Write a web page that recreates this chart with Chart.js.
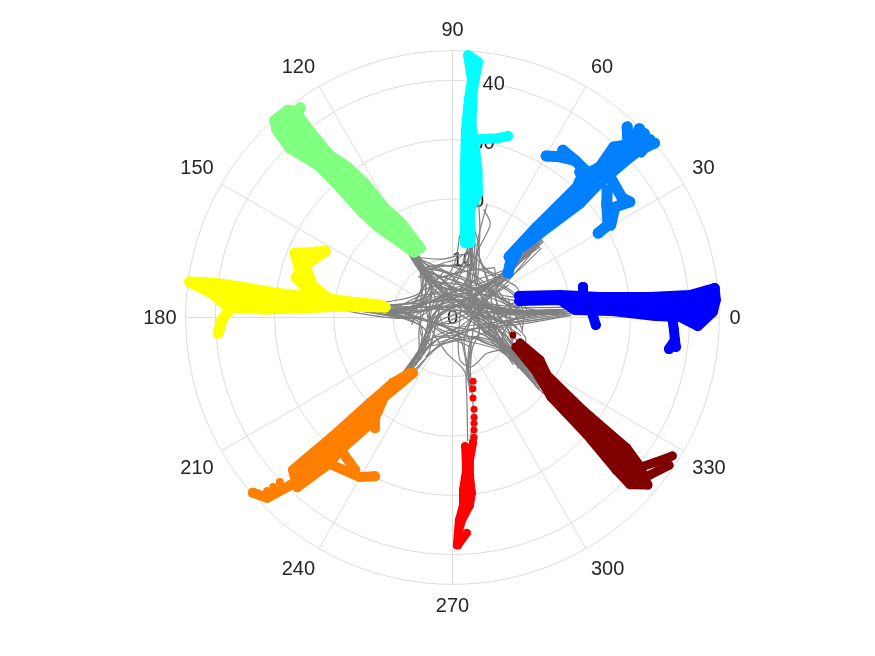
<!DOCTYPE html>
<html>
<head>
<meta charset="utf-8">
<title>Polar trajectories</title>
<script src="https://cdn.jsdelivr.net/npm/chart.js@4"></script>
<style>
  html, body { margin: 0; padding: 0; background: #fff; }
  canvas { display: block; }
</style>
</head>
<body>
<canvas id="chart1" width="875" height="656"></canvas>
<script>
// every track below is a flat list: theta(deg), r, theta, r, ...
const thetaTicks = [0, 30, 60, 90, 120, 150, 180, 210, 240, 270, 300, 330];
const rTicks = [0, 10, 20, 30, 40];
const rMax = 45;
const rLabelAngle = 80;

// bodies are the outline of the dense part of each arm
const blueBody = [17.9,11.8, 11.8,18.5, 7.9,25.1, 5.9,33.5, 5.4,40.2, 6.4,44.5, 3.8,44.5, 1.2,43.9, -2,41.4, 0.1,38.4, 0.4,34.2, 2.4,26.6, 3.5,20.7, 9.2,18.4, 13.9,11.6];
const blueTracks = [
    [13.2,22.6, 8.9,22.3],
    [-3,24.2, 2.3,23.5],
    [0.7,37, -3.2,37.4, -5.8,37.7, -8.3,36.9],
    [-5.8,37.7, -7.5,38]
];
const azureBody = [47,14, 47,20.9, 46.3,30.4, 47.5,32.3, 45.6,35.5, 46.6,39.6, 44.7,41.4, 41.8,42.4, 42.1,40.4, 42.5,33.1, 41.9,28.9, 44,20.5, 45.9,15.9, 42.4,13.1, 38.7,12];
const azureTracks = [
    [47.5,43.6, 44.5,41.5],
    [45.3,44.8, 43.9,42],
    [43.8,44.8, 42.2,42],
    [42,44.8, 41.3,42.3],
    [40.8,45, 41.8,42.4],
    [59.9,31.5, 56.2,32.6, 52.1,33.6, 46,33.4],
    [56.6,33.8, 52.1,33.6],
    [48.8,32.6, 46,33.4],
    [39.5,33.8, 36.1,32.2, 30.7,30.5, 30.1,28.4],
    [40.8,35.5, 35.2,35, 33.1,35.7, 34.2,33.1, 30.3,30.9]
];
const cyanBody = [80.5,12.7, 83.9,19.9, 85.2,25, 85.9,31.7, 85.7,36.8, 85.3,40.2, 86.6,44.3, 84.3,43.3, 84.9,38.5, 84.4,32.6, 82.3,28.5, 80.4,25.2, 78.4,21.4, 80.8,18.4, 76.8,12.9];
const cyanTracks = [
    [84.4,30.1, 79.7,30.6, 75.8,31.2, 73,32]
];
const greenBody = [115,12.9, 118.8,18.4, 122,21.8, 123.2,26.9, 125,31, 127.2,34.4, 127.5,40.3, 127.3,43.6, 128.4,44.6, 132,44.8, 133.1,43.3, 133.8,39.6, 131.4,34.3, 130.9,30.2, 130.6,23.4, 129,19.4, 120.4,12.8];
const greenTracks = [
    [126,43.7, 128.6,43.1]
];
const yellowBody = [170.2,12.4, 171.4,17.5, 171.4,22.1, 172.2,29.4, 171.8,36.2, 171.8,40.8, 172.3,44.7, 174.2,40.8, 177.3,37.9, 177.4,31.7, 176.4,25.8, 174.2,19.1, 171.2,11.5];
const yellowTracks = [
    [170.4,21.8, 167,24.3, 160.4,26.4, 152.5,24.2, 155.6,26.4, 157.7,28.7, 162.7,26.9, 165.8,27.2, 169.1,24.5],
    [183.8,39.6, 180.6,38.9, 177,37.2]
];
const orangeBody = [232.6,11.8, 227.7,14.9, 226,20, 224.8,28.4, 223.7,37.2, 227.5,38.8, 229.5,33.1, 230,28.5, 232.6,21.8, 229.3,17.7, 234.6,11.5];
const orangeTracks = [
    [221.3,44.8, 224.2,43.6, 225.9,39.4],
    [244,29.8, 239.9,31.1, 230.8,32.1],
    [237.4,30.5, 231.1,29.4],
    [235,22.8, 231.5,21]
];
const orangeDots = [223.1,42.8, 223.4,41.6, 223.6,40.2];
const redBody = [279.3,21.4, 277,24.2, 276.3,26.7, 276.3,29.8, 275.3,31.8, 272.7,34.2, 271.4,36.7, 271.1,38.4, 271.8,34.2, 273.2,31.7, 273.5,29.1, 275.1,25.8, 275.6,21.8];
const redTracks = [
    [273.8,36.4, 271.4,38.4]
];
const redDots = [287.9,11.3, 286,12.5, 284.3,14, 283.2,15.9, 282.2,17.2, 281.5,18.2, 280.8,19.3, 280.2,20.5];
const maroonBody = [339.3,12.2, 334.1,16.4, 328.7,18.7, 324.6,27.2, 323.2,36.7, 321.6,40.3, 319.4,43.4, 316.7,41.1, 317,37.7, 318.9,29.9, 321.1,21.3, 327.5,16.5, 335.1,11.8];
const maroonTracks = [
    [327.8,43.8, 324.5,42, 321,40.3],
    [325.7,44.2, 321.4,42.6]
];
const maroonDots = [343.9,10.6];

const greyTrials = [
    [173,20, 174,13, 168,7, 120,4, 60,5, 40,12, 41,20],
    [172,21, 170,12, 150,5, 80,3, 30,6, 38,13, 42,20],
    [175,18, 172,10, 140,3, 45,3, 42,11, 40,19],
    [173,20, 175,12, 165,5, 100,2, 20,6, 6,11, 4,20],
    [171,20, 172,11, 185,5, 270,1, 10,4, 2,12, 3,19],
    [174,19, 176,9, 150,3, 50,4, 8,8, 1,20],
    [173,21, 170,12, 150,6, 105,6, 80,9, 78,14, 81,20],
    [176,17, 174,9, 130,4, 70,6, 74,12, 80,19],
    [172,18, 168,10, 145,6, 125,8, 121,13, 120,20],
    [175,15, 168,8, 135,5, 120,11, 122,20],
    [176,16, 180,9, 205,5, 225,8, 230,13, 227,20],
    [174,14, 184,7, 215,5, 232,10, 226,19],
    [172,18, 173,10, 200,3, 290,3, 285,10, 283,13],
    [171,21, 171,12, 160,5, 60,1, 340,5, 330,11, 322,20],
    [176,21, 174,11, 140,3, 10,3, 345,8, 335,11, 324,20],
    [173,17, 175,8, 220,2, 330,5, 328,12, 321,19],
    [121,21, 122,13, 120,8, 90,3, 45,5, 40,11, 42,20],
    [119,20, 120,12, 115,6, 70,5, 42,9, 39,19],
    [123,18, 124,10, 100,5, 55,8, 41,13, 40,20],
    [122,20, 122,12, 125,7, 60,2, 15,7, 4,11, 3,20],
    [120,18, 118,11, 90,5, 30,6, 10,9, 2,18],
    [124,15, 125,9, 70,3, 0,6, 5,12, 4,20],
    [122,17, 124,9, 100,7, 75,9, 78,14, 80,21],
    [121,21, 122,13, 118,6, 30,3, 350,7, 333,11, 323,20],
    [124,16, 122,8, 60,2, 340,6, 328,11, 320,19],
    [120,15, 118,9, 80,3, 350,5, 335,10, 324,18],
    [122,13, 125,6, 230,2, 325,7, 330,12, 321,20],
    [123,18, 122,11, 150,6, 200,6, 232,10, 226,20],
    [124,16, 125,9, 160,6, 181,8, 176,20],
    [119,15, 122,9, 190,4, 280,4, 300,6, 285,11, 284,13],
    [81,20, 76,13, 65,7, 40,4, 15,7, 4,12, 3,20],
    [79,18, 74,12, 62,8, 30,8, 10,11, 2,18],
    [78,15, 72,10, 50,5, 20,5, 355,9, 1,19],
    [79,19, 72,12, 60,5, 340,5, 332,10, 322,20],
    [73,20, 72,14, 60,8, 30,6, 350,7, 340,10, 325,16],
    [80,16, 75,11, 90,5, 170,3, 225,7, 230,14, 226,20],
    [78,21, 70,13, 75,5, 140,5, 175,8, 173,18],
    [76,15, 68,10, 50,5, 42,10, 40,19],
    [85,14, 88,9, 115,6, 120,11, 122,19],
    [74,19, 68,17, 69,12, 60,7, 100,4, 180,6, 176,15, 174,20],
    [78,21, 79,17, 70,13, 58,8, 20,3, 210,3, 300,4],
    [40,20, 38,12, 30,7, 10,6, 355,8, 3,14, 2,20],
    [42,19, 40,11, 25,8, 5,9, 4,20],
    [42,20, 41,12, 25,5, 340,5, 330,11, 323,20],
    [40,17, 36,10, 15,4, 345,7, 328,12, 321,18],
    [38,19, 35,12, 50,4, 160,2, 230,6, 231,13, 226,20],
    [41,20, 38,10, 30,3, 200,3, 228,10, 227,18],
    [41,18, 40,10, 70,4, 150,5, 172,10, 174,20],
    [39,17, 33,11, 20,5, 300,4, 287,9, 284,12],
    [43,16, 42,9, 65,5, 115,7, 122,13, 121,20],
    [5,20, 8,12, 18,7, 25,5, 345,5, 332,11, 322,20],
    [1,20, 356,13, 350,9, 335,8, 326,13, 322,19],
    [3,18, 0,11, 345,9, 330,10, 322,16],
    [3,20, 2,12, 10,6, 80,3, 160,4, 175,10, 173,21],
    [4,19, 0,12, 345,6, 250,3, 228,9, 230,14, 225,20],
    [2,17, 355,8, 300,2, 225,5, 229,12, 226,19],
    [2,20, 358,12, 348,8, 310,5, 287,9, 284,13],
    [0,17, 355,9, 30,3, 100,6, 122,11, 120,20],
    [4,18, 6,9, 40,6, 70,10, 80,20],
    [322,20, 326,12, 335,7, 345,4, 40,4, 40,12, 41,20],
    [320,20, 324,13, 330,7, 20,3, 115,6, 122,13, 122,20],
    [323,21, 328,12, 320,6, 250,2, 190,4, 175,12, 172,20],
    [321,18, 325,10, 305,5, 240,4, 230,12, 226,19],
    [324,20, 330,11, 0,5, 60,5, 75,11, 80,20],
    [326,15, 336,9, 350,7, 5,10, 3,19],
    [226,20, 229,12, 225,6, 190,3, 60,3, 42,10, 41,20],
    [224,20, 228,13, 222,7, 170,4, 118,8, 124,14, 122,21],
    [228,20, 232,12, 230,6, 300,2, 10,5, 4,11, 3,20],
    [225,19, 230,11, 212,6, 185,6, 176,14, 172,20],
    [230,18, 234,11, 248,5, 320,5, 330,11, 322,20],
    [232,16, 237,8, 200,3, 110,4, 78,10, 80,20],
    [229,15, 222,7, 160,3, 30,4, 5,9, 2,18],
    [277,21, 280,14, 285,9, 305,6, 335,5, 42,5, 40,14, 42,20],
    [284,13, 282,9, 260,6, 200,4, 125,7, 123,20],
    [285,12, 287,9, 300,6, 15,5, 5,12, 3,19],
    [60,3, 284,4, 280,7.3, 289.5,8.9, 298,8.7, 314,8.4, 327,10.1, 332,12],
    [20,4, 313,3.6, 303.5,6, 292,7.8, 286.5,11, 282,17, 278,21],
    [150,5, 201,5.9, 230,6, 245,5, 290,4, 325,6],
    [355,10, 345,12.7, 339,13, 335,12],
    // crossings of the middle that miss the origin
    [125,10, 105,9, 70,9, 45,10, 25,12, 10,12],
    [122,10, 100,8, 60,7, 30,8, 8,10],
    [160,7, 125,7, 60,6, 20,9, 5,12],
    [172,10, 140,6, 60,4, 15,7, 350,11],
    [122,12, 100,8, 50,5, 10,7, 345,10, 335,11],
    [130,9, 105,6, 40,5, 0,8, 340,11],
    [120,11, 90,7, 55,7, 25,9, 15,12, 8,11],
    [125,10, 85,6, 30,5, 350,7, 330,10],
    [160,6, 120,5, 60,3, 10,5, 340,8, 325,12],
    [178,8, 150,5, 80,3, 20,3, 340,7, 322,13],
    [172,12, 150,6, 115,7, 75,8, 50,11],
    [165,7, 135,7, 110,9, 85,10, 72,13],
    [122,12, 100,10, 75,11, 50,10, 35,12],
    [228,11, 215,5, 140,4, 60,6, 40,11],
    [230,10, 195,4, 120,3, 40,6, 15,11],
    [233,9, 205,4, 90,2, 10,6, 358,11],
    [225,8, 180,3, 40,3, 355,8, 345,12],
    [235,8, 255,4, 330,4, 352,9, 5,12],
    [240,5, 300,3, 25,5, 30,11],
    [330,12, 340,9, 5,7, 40,8, 65,11],
    [335,11, 355,8, 25,8, 50,9, 70,12],
    [325,11, 345,6, 30,5, 80,7, 115,9],
    [340,10, 5,5, 60,4, 120,6, 140,7],
    [3,12, 20,9, 60,8, 100,9, 125,10],
    [8,11, 30,7, 75,6, 115,8, 128,9],
    [358,10, 25,5, 100,4, 150,5, 172,9],
    [5,10, 40,4, 130,3, 175,6, 190,7],
    [352,11, 10,4, 150,2, 215,5, 232,10],
    [340,12, 350,7, 280,3, 225,5, 228,10],
    [15,12, 8,8, 340,5, 320,6, 330,11],
    [50,11, 30,9, 10,10, 350,12],
    [60,10, 35,10, 15,12, 0,13],
    [45,9, 20,11, 5,12, 348,12],
    [18,10, 350,10, 330,12, 322,14],
    [100,8, 135,6, 160,6, 172,13],
    [85,9, 118,9, 145,7, 168,12]
];

function polarToXY(flat) {
    // turn a theta/r list into points for the x and y scales
    let pts = [];
    for (let i = 0; i < flat.length; i += 2) {
        let a = flat[i] * Math.PI / 180;
        pts.push({ x: flat[i + 1] * Math.cos(a), y: flat[i + 1] * Math.sin(a) });
    }
    return pts;
}

function armDataset(flat, color, radius, closed) {
    return {
        data: polarToXY(flat),
        showLine: true,
        borderColor: color,
        backgroundColor: color,
        borderWidth: radius * 2,
        borderCapStyle: 'round',
        borderJoinStyle: 'round',
        pointRadius: radius,
        pointBorderWidth: 0,
        fill: closed ? 'shape' : false,
        order: 0
    };
}

function armDatasets(body, tracks, color, radius) {
    let list = [armDataset(body, color, radius, true)];
    tracks.forEach(function(t) {
        list.push(armDataset(t, color, radius, false));
    });
    return list;
}

function dotDataset(flat, color, radius) {
    return {
        data: polarToXY(flat),
        showLine: false,
        backgroundColor: color,
        pointRadius: radius,
        pointBorderWidth: 0,
        order: 0
    };
}

let datasets = [];
greyTrials.forEach(function(t) {
    datasets.push({
        data: polarToXY(t),
        showLine: true,
        borderColor: '#808080',
        borderWidth: 1.2,
        pointRadius: 0,
        tension: 0.3,
        order: 1
    });
});
datasets = datasets.concat(
    armDatasets(blueBody, blueTracks, '#0000ff', 5),
    armDatasets(azureBody, azureTracks, '#0080ff', 5.5),
    armDatasets(cyanBody, cyanTracks, '#00ffff', 5),
    armDatasets(greenBody, greenTracks, '#80ff80', 5.5),
    armDatasets(yellowBody, yellowTracks, '#ffff00', 5.5),
    armDatasets(orangeBody, orangeTracks, '#ff8000', 5),
    armDatasets(redBody, redTracks, '#ff0000', 4),
    armDatasets(maroonBody, maroonTracks, '#800000', 4.5),
    [dotDataset(orangeDots, '#ff8000', 4),
     dotDataset(redDots, '#ff0000', 3.5),
     dotDataset(maroonDots, '#800000', 3.5)]
);

const polarGrid = {
    id: 'polarGrid',
    beforeDatasetsDraw: function(chart) {
        let ctx = chart.ctx;
        let xs = chart.scales.x, ys = chart.scales.y;
        let cx = xs.getPixelForValue(0), cy = ys.getPixelForValue(0);
        let unit = xs.getPixelForValue(1) - cx;

        ctx.save();
        ctx.strokeStyle = '#dcdcdc';
        ctx.lineWidth = 1;
        rTicks.slice(1).concat([rMax]).forEach(function(r) {
            ctx.beginPath();
            ctx.arc(cx, cy, r * unit, 0, Math.PI * 2);
            ctx.stroke();
        });
        thetaTicks.forEach(function(t) {
            let p = polarToXY([t, rMax])[0];
            ctx.beginPath();
            ctx.moveTo(cx, cy);
            ctx.lineTo(xs.getPixelForValue(p.x), ys.getPixelForValue(p.y));
            ctx.stroke();
        });

        ctx.fillStyle = '#262626';
        ctx.font = '20px "Liberation Sans", Arial, sans-serif';
        ctx.textBaseline = 'middle';
        ctx.textAlign = 'center';
        rTicks.forEach(function(r) {
            let p = polarToXY([rLabelAngle, r])[0];
            ctx.fillText(String(r), xs.getPixelForValue(p.x), ys.getPixelForValue(p.y) + 1);
        });
        thetaTicks.forEach(function(t) {
            let p = polarToXY([t, 46.7])[0];
            let px = xs.getPixelForValue(p.x), py = ys.getPixelForValue(p.y) + 1;
            let c = Math.cos(t * Math.PI / 180), s = Math.sin(t * Math.PI / 180);
            ctx.textAlign = c > 0.1 ? 'left' : (c < -0.1 ? 'right' : 'center');
            if (c < -0.1) px += 1;
            if (s > 0.1) py -= 11.5;
            if (s < -0.1) py += 11.5;
            ctx.fillText(String(t), px, py);
        });
        ctx.restore();
    }
};

new Chart(document.getElementById('chart1'), {
    type: 'scatter',
    data: { datasets: datasets },
    options: {
        responsive: false,
        animation: false,
        events: [],
        layout: { padding: 0, autoPadding: false },
        scales: {
            x: { type: 'linear', display: false, min: -76.31, max: 71.25 },
            y: { type: 'linear', display: false, min: -57.08, max: 53.54 }
        },
        plugins: {
            legend: { display: false },
            title: { display: false },
            tooltip: { enabled: false }
        }
    },
    plugins: [polarGrid]
});
</script>
</body>
</html>
